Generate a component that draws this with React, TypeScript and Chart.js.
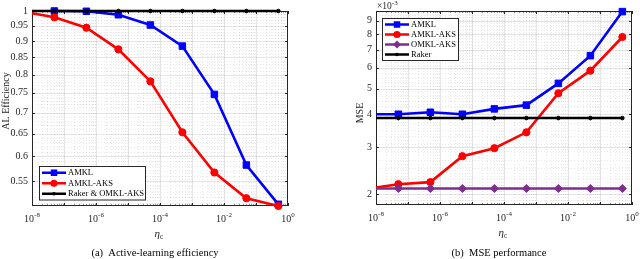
import React, { useEffect, useRef } from "react";
import { Chart, registerables } from "chart.js";
Chart.register(...registerables);

// ---------------- data ----------------
const etaC = [5e-8, 5e-7, 5e-6, 5e-5, 5e-4, 5e-3, 5e-2, 5e-1];
const etaStart = 1e-8;

// (a) Active-learning efficiency
const effAmkl = [1.0, 0.999, 0.987, 0.952, 0.884, 0.746, 0.582, 0.507];
const effAmklAks = [0.978, 0.943, 0.874, 0.781, 0.653, 0.567, 0.518, 0.504];
const effAmklAksStart = 0.992;
const effRakerOmklAks = [1, 1, 1, 1, 1, 1, 1, 1];
const effRakerOmklAksStart = 1;

// (b) MSE performance
const mseAmkl = [4.0e-3, 4.07e-3, 4.0e-3, 4.19e-3, 4.33e-3, 5.23e-3, 6.65e-3, 9.75e-3];
const mseAmklStart = 4.0e-3;
const mseAmklAks = [2.18e-3, 2.22e-3, 2.78e-3, 2.98e-3, 3.42e-3, 4.8e-3, 5.84e-3, 7.82e-3];
const mseAmklAksStart = 2.12e-3;
const mseOmklAks = [2.1e-3, 2.1e-3, 2.1e-3, 2.1e-3, 2.1e-3, 2.1e-3, 2.1e-3, 2.1e-3];
const mseOmklAksStart = 2.1e-3;
const mseRaker = [3.87e-3, 3.87e-3, 3.87e-3, 3.87e-3, 3.87e-3, 3.87e-3, 3.87e-3, 3.87e-3];
const mseRakerStart = 3.87e-3;

// ticks
const xTickExponents = [-8, -6, -4, -2, 0];
const effTicks = [0.55, 0.6, 0.65, 0.7, 0.75, 0.8, 0.85, 0.9, 0.95, 1];
const mseTicks = [2e-3, 3e-3, 4e-3, 5e-3, 6e-3, 7e-3, 8e-3, 9e-3];

// ---------------- styling ----------------
const FONT = '"Liberation Serif", "Times New Roman", serif';
const AX = "#262626";
const BLUE = "#0000ff";
const RED = "#ff0000";
const PURPLE = "#7e2f8e";
const BLACK = "#000000";

type Entry = { label: string; color: string; style: string; radius: number; lw: number };

function drawMarker(ctx: CanvasRenderingContext2D, style: string, x: number, y: number, r: number, color: string) {
  ctx.save();
  ctx.fillStyle = color;
  ctx.beginPath();
  if (style === "rect") {
    const s = r * Math.SQRT1_2;
    ctx.rect(x - s, y - s, 2 * s, 2 * s);
  } else if (style === "rectRot") {
    ctx.moveTo(x, y - r);
    ctx.lineTo(x + r, y);
    ctx.lineTo(x, y + r);
    ctx.lineTo(x - r, y);
    ctx.closePath();
  } else {
    ctx.arc(x, y, r, 0, Math.PI * 2);
  }
  ctx.fill();
  ctx.restore();
}

function series(label: string, start: number | null, ys: number[], color: string, style: string, radius: number, width: number, order: number) {
  const pts = etaC.map((x, i) => ({ x, y: ys[i] }));
  const data = start == null ? pts : [{ x: etaStart, y: start }, ...pts];
  return {
    label,
    data,
    order,
    borderColor: color,
    backgroundColor: color,
    pointBackgroundColor: color,
    pointBorderColor: color,
    pointStyle: style,
    pointRadius: start == null ? radius : (c: any) => (c.dataIndex === 0 ? 0 : radius),
    pointBorderWidth: 1,
    borderWidth: width,
    tension: 0,
    fill: false,
    clip: false as any,
  };
}

type PanelCfg = {
  id: string;
  yTitle: string;
  yTitleX: number;
  yTitleY: number;
  caption: string;
  yMajor: number[];
  yMinor: number[];
  legend: { anchor: "bl" | "tl"; dx: number; dy: number; w: number; rowH: number; entries: Entry[] };
  exponent?: string;
};

function makePanelPlugin(cfg: PanelCfg) {
  return {
    id: "panel" + cfg.id,
    beforeDatasetsDraw(chart: any) {
      const ctx: CanvasRenderingContext2D = chart.ctx;
      const { left, right, top, bottom } = chart.chartArea;
      const xs = chart.scales.x;
      const ys = chart.scales.y;
      const px = (v: number) => Math.round(xs.getPixelForValue(v)) + 0.5;
      const py = (v: number) => Math.round(ys.getPixelForValue(v)) + 0.5;
      ctx.save();
      ctx.lineWidth = 1;
      // minor grid
      ctx.strokeStyle = "rgba(38,38,38,0.10)";
      ctx.setLineDash([1, 2]);
      const xMinor: number[] = [];
      for (let e = -8; e < 0; e++) for (let k = 2; k <= 9; k++) xMinor.push(k * Math.pow(10, e));
      ctx.beginPath();
      xMinor.forEach((v) => {
        const x = px(v);
        ctx.moveTo(x, top);
        ctx.lineTo(x, bottom);
      });
      cfg.yMinor.forEach((v) => {
        const y = py(v);
        ctx.moveTo(left, y);
        ctx.lineTo(right, y);
      });
      ctx.stroke();
      // major grid
      ctx.setLineDash([]);
      ctx.strokeStyle = "rgba(38,38,38,0.12)";
      ctx.beginPath();
      for (let e = -7; e < 0; e++) {
        const x = px(Math.pow(10, e));
        ctx.moveTo(x, top);
        ctx.lineTo(x, bottom);
      }
      cfg.yMajor.forEach((v) => {
        const y = py(v);
        ctx.moveTo(left, y);
        ctx.lineTo(right, y);
      });
      ctx.stroke();
      // box + inward ticks
      ctx.strokeStyle = AX;
      ctx.beginPath();
      ctx.rect(Math.round(left) + 0.5, Math.round(top) + 0.5, Math.round(right - left) - 1, Math.round(bottom - top) - 1);
      for (let e = -8; e <= 0; e++) {
        const x = px(Math.pow(10, e));
        ctx.moveTo(x, bottom);
        ctx.lineTo(x, bottom - 3);
        ctx.moveTo(x, top);
        ctx.lineTo(x, top + 3);
      }
      xMinor.forEach((v) => {
        const x = px(v);
        ctx.moveTo(x, bottom);
        ctx.lineTo(x, bottom - 1.5);
        ctx.moveTo(x, top);
        ctx.lineTo(x, top + 1.5);
      });
      cfg.yMajor.forEach((v) => {
        const y = py(v);
        ctx.moveTo(left, y);
        ctx.lineTo(left + 3, y);
        ctx.moveTo(right, y);
        ctx.lineTo(right - 3, y);
      });
      ctx.stroke();
      ctx.restore();
    },
    afterDatasetsDraw(chart: any) {
      const ctx: CanvasRenderingContext2D = chart.ctx;
      const { left, top, bottom } = chart.chartArea;
      const L = cfg.legend;
      const h = L.entries.length * L.rowH + 2;
      const bx = Math.round(left + L.dx) + 0.5;
      const by = L.anchor === "bl" ? Math.round(bottom - L.dy - h) + 0.5 : Math.round(top + L.dy) + 0.5;
      ctx.save();
      ctx.fillStyle = "#ffffff";
      ctx.fillRect(bx, by, L.w, h);
      ctx.strokeStyle = AX;
      ctx.lineWidth = 1;
      ctx.strokeRect(bx, by, L.w, h);
      ctx.font = `8.5px ${FONT}`;
      ctx.textBaseline = "middle";
      ctx.textAlign = "left";
      L.entries.forEach((en, i) => {
        const cy = by + 1 + L.rowH * (i + 0.5);
        ctx.strokeStyle = en.color;
        ctx.lineWidth = en.lw;
        ctx.beginPath();
        ctx.moveTo(bx + 2.5, cy);
        ctx.lineTo(bx + 26.5, cy);
        ctx.stroke();
        drawMarker(ctx, en.style, bx + 14.5, cy, en.radius, en.color);
        ctx.fillStyle = "#000";
        ctx.fillText(en.label, bx + 28.5, cy + 0.5);
      });
      ctx.restore();
    },
    afterDraw(chart: any) {
      const ctx: CanvasRenderingContext2D = chart.ctx;
      const { left, right, top, bottom } = chart.chartArea;
      const xs = chart.scales.x;
      ctx.save();
      ctx.fillStyle = AX;
      ctx.textBaseline = "alphabetic";
      ctx.textAlign = "left";
      // x tick labels 10^e
      xTickExponents.forEach((e) => {
        const x = xs.getPixelForValue(Math.pow(10, e));
        ctx.font = `10px ${FONT}`;
        const wb = ctx.measureText("10").width;
        ctx.font = `7px ${FONT}`;
        const sup = String(e);
        const ws = ctx.measureText(sup).width;
        const x0 = x - (wb + ws) / 2;
        ctx.font = `10px ${FONT}`;
        ctx.fillText("10", x0, bottom + 16);
        ctx.font = `7px ${FONT}`;
        ctx.fillText(sup, x0 + wb, bottom + 11);
      });
      // x title eta_c
      const cx = (left + right) / 2;
      ctx.font = `italic 11px ${FONT}`;
      const we = ctx.measureText("\u03b7").width;
      ctx.font = `7.5px ${FONT}`;
      const wc = ctx.measureText("c").width;
      const ex = cx - (we + wc) / 2 - 1;
      ctx.font = `italic 11px ${FONT}`;
      ctx.fillText("\u03b7", ex, bottom + 31);
      ctx.font = `7.5px ${FONT}`;
      ctx.fillText("c", ex + we, bottom + 33);
      // y title
      ctx.save();
      ctx.translate(cfg.yTitleX, cfg.yTitleY);
      ctx.rotate(-Math.PI / 2);
      ctx.textAlign = "center";
      ctx.textBaseline = "middle";
      ctx.font = `10px ${FONT}`;
      ctx.fillText(cfg.yTitle, 0, 0);
      ctx.restore();
      // exponent label
      if (cfg.exponent) {
        ctx.font = `9.5px ${FONT}`;
        const w10 = ctx.measureText("\u00d710").width;
        ctx.fillText("\u00d710", left + 1, top - 2);
        ctx.font = `7px ${FONT}`;
        ctx.fillText(cfg.exponent, left + 1 + w10, top - 6);
      }
      // caption
      ctx.fillStyle = "#000";
      ctx.textAlign = "center";
      ctx.font = `10.5px ${FONT}`;
      ctx.fillText(cfg.caption, cx - 5, 256);
      ctx.restore();
    },
  };
}

function makeOptions(o: { yMin: number; yMax: number; yTicks: number[]; yFmt: (v: number) => string; yWidth: number; padLeft: number; padRight: number; xHeight: number }) {
  return {
    responsive: false,
    maintainAspectRatio: false,
    animation: false as const,
    devicePixelRatio: 1,
    events: [] as any[],
    layout: { padding: { left: o.padLeft, right: o.padRight, top: 11, bottom: 0 } },
    plugins: { legend: { display: false }, title: { display: false }, tooltip: { enabled: false } },
    scales: {
      x: {
        type: "logarithmic" as const,
        min: 1e-8,
        max: 1,
        ticks: { display: false },
        grid: { display: false, drawTicks: false },
        border: { display: false },
        afterFit: (s: any) => {
          s.height = o.xHeight;
        },
      },
      y: {
        type: "logarithmic" as const,
        min: o.yMin,
        max: o.yMax,
        afterBuildTicks: (s: any) => {
          s.ticks = o.yTicks.map((v) => ({ value: v }));
        },
        ticks: {
          autoSkip: false,
          padding: 4,
          color: AX,
          font: { family: FONT, size: 10 },
          callback: (v: any) => o.yFmt(Number(v)),
        },
        grid: { display: false, drawTicks: false },
        border: { display: false },
        afterFit: (s: any) => {
          s.width = o.yWidth;
        },
      },
    },
  };
}

function leftChart(canvas: HTMLCanvasElement) {
  const yMinor: number[] = [];
  for (let i = 51; i < 100; i++) if (i % 5 !== 0) yMinor.push(i / 100);
  const plugin = makePanelPlugin({
    id: "a",
    yTitle: "AL Efficiency",
    yTitleX: 6,
    yTitleY: 101,
    caption: "(a)  Active-learning efficiency",
    yMajor: effTicks,
    yMinor,
    legend: {
      anchor: "bl",
      dx: 7,
      dy: 7,
      w: 106,
      rowH: 10.5,
      entries: [
        { label: "AMKL", color: BLUE, style: "rect", radius: 4.6, lw: 2.5 },
        { label: "AMKL-AKS", color: RED, style: "circle", radius: 3.6, lw: 2.5 },
        { label: "Raker & OMKL-AKS", color: BLACK, style: "circle", radius: 1.8, lw: 2.5 },
      ],
    },
  });
  return new Chart(canvas, {
    type: "line",
    data: {
      datasets: [
        series("AMKL", null, effAmkl, BLUE, "rect", 4.6, 2.6, 2),
        series("AMKL-AKS", effAmklAksStart, effAmklAks, RED, "circle", 3.6, 2.6, 1),
        series("Raker & OMKL-AKS", effRakerOmklAksStart, effRakerOmklAks, BLACK, "circle", 1.8, 2.4, 0),
      ] as any,
    },
    options: makeOptions({
      yMin: 0.504,
      yMax: 1,
      yTicks: effTicks,
      yFmt: (v) => String(Math.round(v * 100) / 100),
      yWidth: 32,
      padLeft: 0,
      padRight: 32,
      xHeight: 53,
    }) as any,
    plugins: [plugin],
  });
}

function rightChart(canvas: HTMLCanvasElement) {
  const yMinor: number[] = [];
  for (let i = 19; i <= 97; i += 2) if (i % 10 !== 0) yMinor.push(i / 10000);
  const plugin = makePanelPlugin({
    id: "b",
    yTitle: "MSE",
    yTitleX: 40,
    yTitleY: 113,
    caption: "(b)  MSE performance",
    yMajor: mseTicks,
    yMinor,
    exponent: "-3",
    legend: {
      anchor: "tl",
      dx: 6,
      dy: 7,
      w: 76,
      rowH: 10,
      entries: [
        { label: "AMKL", color: BLUE, style: "rect", radius: 4.6, lw: 2.5 },
        { label: "AMKL-AKS", color: RED, style: "circle", radius: 3.6, lw: 2.5 },
        { label: "OMKL-AKS", color: PURPLE, style: "rectRot", radius: 4, lw: 2.5 },
        { label: "Raker", color: BLACK, style: "circle", radius: 1.8, lw: 2.5 },
      ],
    },
  });
  return new Chart(canvas, {
    type: "line",
    data: {
      datasets: [
        series("AMKL", mseAmklStart, mseAmkl, BLUE, "rect", 4.6, 2.6, 3),
        series("AMKL-AKS", mseAmklAksStart, mseAmklAks, RED, "circle", 3.6, 2.6, 2),
        series("OMKL-AKS", mseOmklAksStart, mseOmklAks, PURPLE, "rectRot", 4, 2.6, 1),
        series("Raker", mseRakerStart, mseRaker, BLACK, "circle", 1.8, 2.4, 0),
      ] as any,
    },
    options: makeOptions({
      yMin: 1.82e-3,
      yMax: 9.8e-3,
      yTicks: mseTicks,
      yFmt: (v) => String(Math.round(v * 1000)),
      yWidth: 24,
      padLeft: 32,
      padRight: 8,
      xHeight: 54,
    }) as any,
    plugins: [plugin],
  });
}

export default function App() {
  const leftRef = useRef<HTMLCanvasElement>(null);
  const rightRef = useRef<HTMLCanvasElement>(null);
  useEffect(() => {
    const c1 = leftChart(leftRef.current!);
    const c2 = rightChart(rightRef.current!);
    return () => {
      c1.destroy();
      c2.destroy();
    };
  }, []);
  return (
    <div style={{ position: "absolute", left: 0, top: 0, width: 640, height: 259, background: "#ffffff" }}>
      <canvas ref={leftRef} width={320} height={259} style={{ position: "absolute", left: 0, top: 0, width: 320, height: 259 }} />
      <canvas ref={rightRef} width={320} height={259} style={{ position: "absolute", left: 320, top: 0, width: 320, height: 259 }} />
    </div>
  );
}
